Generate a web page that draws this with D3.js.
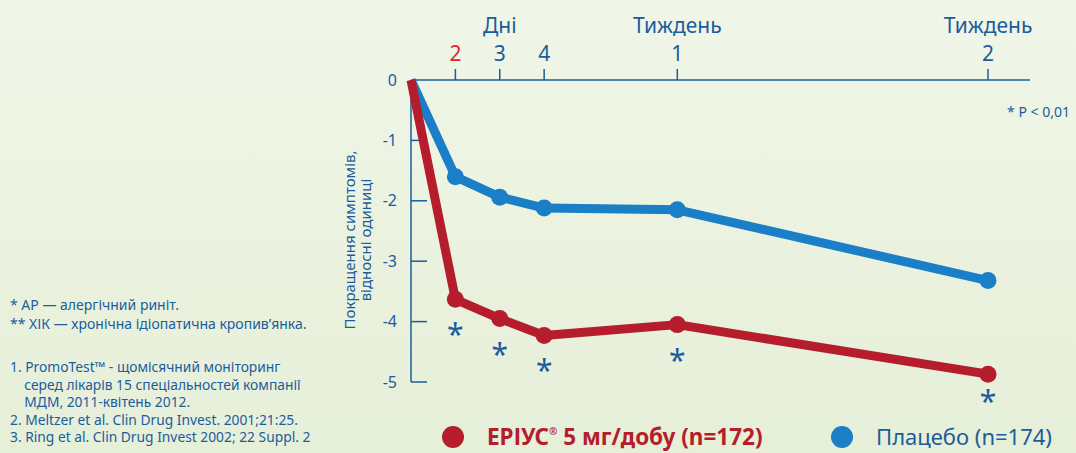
<!DOCTYPE html>
<html>
<head>
<meta charset="utf-8">
<script src="https://cdn.jsdelivr.net/npm/d3@7"></script>
<style>
  html, body { margin: 0; padding: 0; }
  body { width: 1076px; height: 453px; overflow: hidden; }
  text { font-family: "Noto Sans", sans-serif; }
</style>
</head>
<body>
<div id="chart"></div>
<script>
// days from start; first point is the baseline
const days = [1, 2, 3, 4, 7, 14];
const erius = [0, -3.63, -3.95, -4.23, -4.05, -4.87];
const placebo = [0, -1.6, -1.94, -2.12, -2.15, -3.32];
const signif = [false, true, true, true, true, true];
const topTicks = [
  {day: 2, label: "2", group: null, red: true},
  {day: 3, label: "3", group: "Дні"},
  {day: 4, label: "4", group: null},
  {day: 7, label: "1", group: "Тиждень"},
  {day: 14, label: "2", group: "Тиждень"}
];
const yTicks = [0, -1, -2, -3, -4, -5];
const notes = [
  "* АР — алергічний риніт.",
  "** ХІК — хронічна ідіопатична кропив’янка."
];
const refs = [
  "1. PromoTest™ - щомісячний моніторинг",
  "    серед лікарів 15 спеціальностей компанії",
  "    МДМ, 2011-квітень 2012.",
  "2. Meltzer et al. Clin Drug Invest. 2001;21:25.",
  "3. Ring et al. Clin Drug Invest 2002; 22 Suppl. 2"
];

const W = 1076, H = 453;
const blue = "#1a7fc6", red = "#b51d2c", textBlue = "#1b5c9c";

const svg = d3.select("#chart").append("svg")
  .attr("width", W).attr("height", H);

const grad = svg.append("defs").append("linearGradient")
  .attr("id", "bg").attr("x1", 0).attr("y1", 0).attr("x2", 0).attr("y2", 1);
grad.append("stop").attr("offset", "0%").attr("stop-color", "#f0f6e8");
grad.append("stop").attr("offset", "100%").attr("stop-color", "#e6efd8");
svg.append("rect").attr("width", W).attr("height", H).attr("fill", "url(#bg)");

const xScale = d3.scaleLinear().domain([1, 14]).range([411, 988]);
const yScale = d3.scaleLinear().domain([0, -5]).range([80, 382]);

// top axis
svg.append("line")
  .attr("x1", 411).attr("x2", 1030).attr("y1", 80).attr("y2", 80)
  .attr("stroke", textBlue).attr("stroke-width", 1.5);

const tg = svg.selectAll(".topTick").data(topTicks).join("g")
  .attr("class", "topTick")
  .attr("transform", d => "translate(" + xScale(d.day) + ",80)");
tg.append("line").attr("y1", 0).attr("y2", -11)
  .attr("stroke", textBlue).attr("stroke-width", 1.5);
tg.append("text").attr("y", -19).attr("text-anchor", "middle")
  .attr("font-size", 21)
  .attr("fill", d => d.red ? "#e3262c" : textBlue)
  .text(d => d.label);
tg.filter(d => d.group).append("text")
  .attr("y", -47).attr("text-anchor", "middle")
  .attr("font-size", 21).attr("fill", textBlue)
  .text(d => d.group);

// left axis
svg.append("line")
  .attr("x1", 411).attr("x2", 411).attr("y1", 80).attr("y2", 382)
  .attr("stroke", textBlue).attr("stroke-width", 1.5);
const yg = svg.selectAll(".yTick").data(yTicks).join("g")
  .attr("transform", d => "translate(411," + yScale(d) + ")");
yg.filter(d => d !== 0).append("line").attr("x1", 0).attr("x2", 16)
  .attr("stroke", textBlue).attr("stroke-width", 1.5);
yg.append("text").attr("x", -14).attr("dy", "0.35em")
  .attr("text-anchor", "end").attr("font-size", 16).attr("fill", textBlue)
  .text(d => d);

const yTitle = svg.append("text")
  .attr("transform", "translate(355,240) rotate(-90)")
  .attr("text-anchor", "middle").attr("font-size", 15).attr("fill", textBlue);
yTitle.append("tspan").attr("x", 0).attr("dy", 0).text("Покращення симптомів,");
yTitle.append("tspan").attr("x", 0).attr("dy", 16).text("відносні одиниці");

svg.append("text").attr("x", 1070).attr("y", 117).attr("text-anchor", "end")
  .attr("font-size", 14).attr("fill", textBlue).text("* P < 0,01");

// series
const line = d3.line().x(d => xScale(d[0])).y(d => yScale(d[1]));
const series = [
  {vals: placebo, color: blue},
  {vals: erius, color: red}
];
series.forEach(s => {
  const pts = days.map((d, i) => [d, s.vals[i]]);
  svg.append("path").datum(pts)
    .attr("d", line).attr("fill", "none")
    .attr("stroke", s.color).attr("stroke-width", 9)
    .attr("stroke-linejoin", "round");
  svg.selectAll(null).data(pts.slice(1)).join("circle")
    .attr("cx", d => xScale(d[0])).attr("cy", d => yScale(d[1]))
    .attr("r", 8.5).attr("fill", s.color);
});

// significance stars under erius points
svg.selectAll(".star").data(days.map((d, i) => [d, erius[i], signif[i]]).filter(d => d[2]))
  .join("text")
  .attr("x", d => xScale(d[0])).attr("y", d => Math.min(yScale(d[1]) + 46, 412))
  .attr("text-anchor", "middle").attr("font-size", 30)
  .attr("fill", textBlue).text("*");

// legend
svg.append("circle").attr("cx", 453).attr("cy", 437).attr("r", 11).attr("fill", red);
const lt = svg.append("text").attr("x", 487).attr("y", 445)
  .attr("font-size", 22.5).attr("font-weight", "bold").attr("fill", red);
lt.append("tspan").text("ЕРІУС");
lt.append("tspan").attr("font-size", 10).attr("dy", -10).text("®");
lt.append("tspan").attr("dy", 10).text(" 5 мг/добу (n=172)");
svg.append("circle").attr("cx", 842).attr("cy", 437).attr("r", 11).attr("fill", blue);
svg.append("text").attr("x", 876).attr("y", 445)
  .attr("font-size", 22).attr("fill", textBlue).text("Плацебо (n=174)");

// footnotes
svg.selectAll(".note").data(notes).join("text")
  .attr("x", 10).attr("y", (d, i) => 310 + i * 19)
  .attr("font-size", 14).attr("fill", textBlue).text(d => d);
svg.selectAll(".ref").data(refs).join("text")
  .attr("x", 10).attr("y", (d, i) => 372 + i * 17.5)
  .attr("font-size", 13.8).attr("fill", textBlue)
  .attr("xml:space", "preserve").style("white-space", "pre")
  .text(d => d);
</script>
</body>
</html>
